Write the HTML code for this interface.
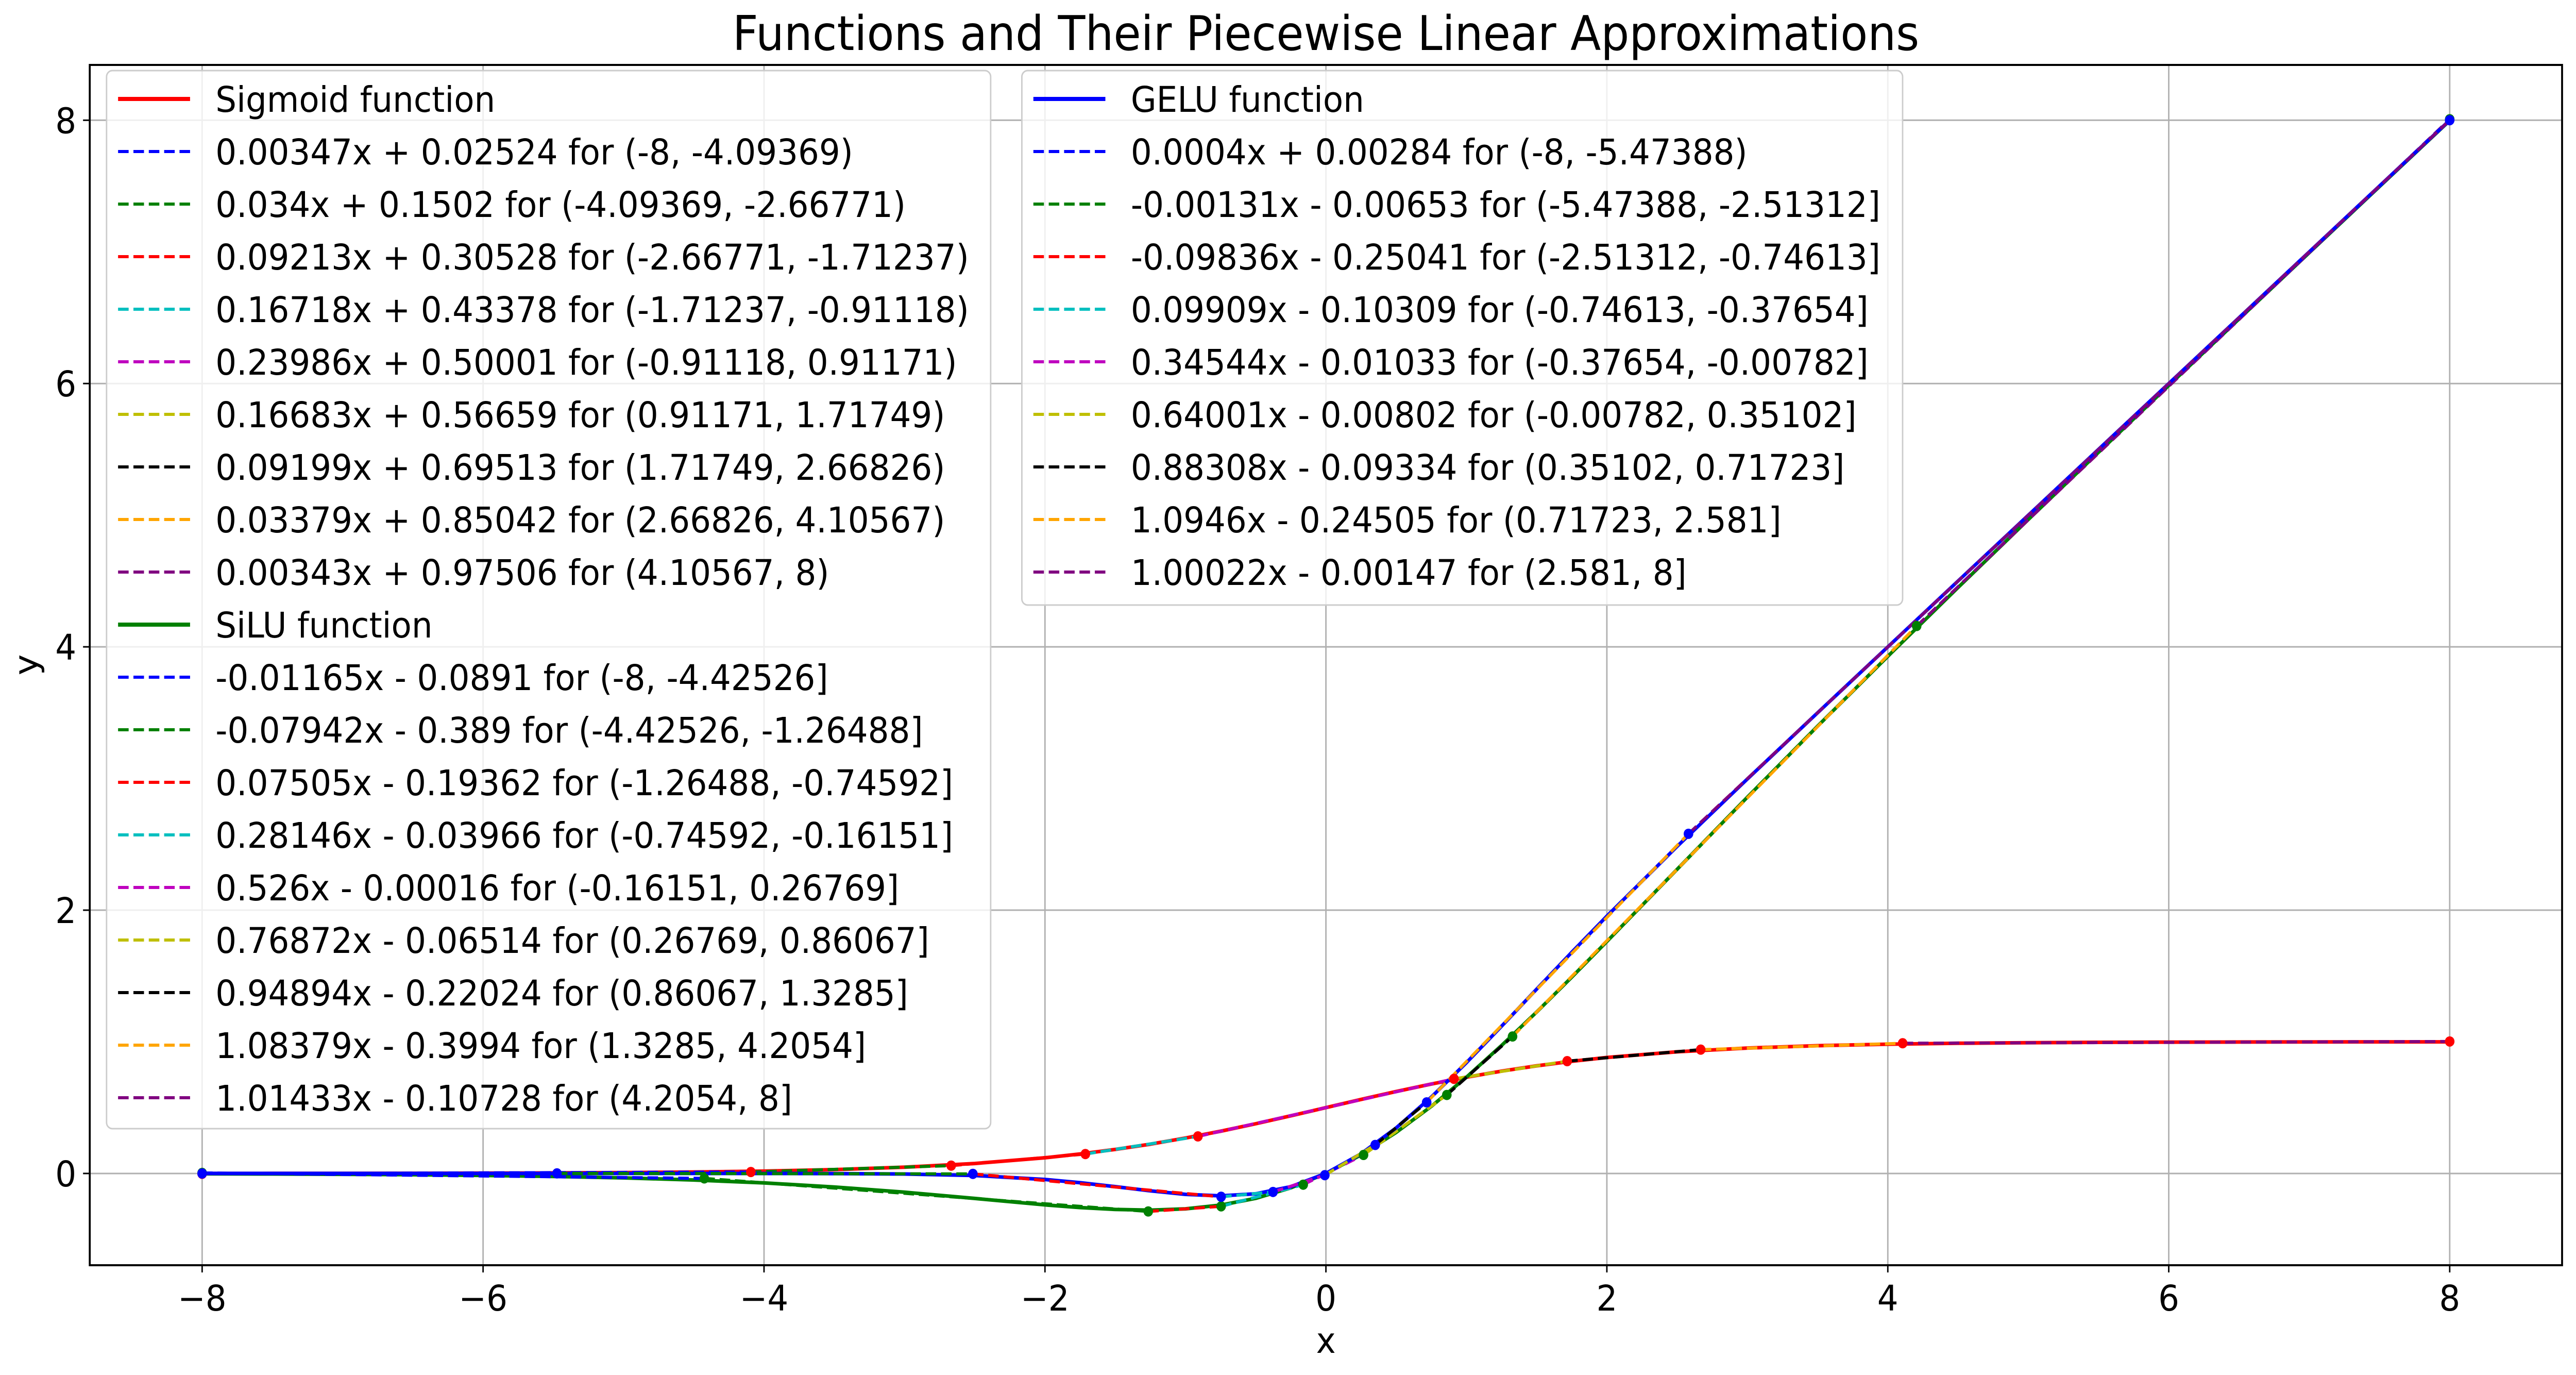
<!DOCTYPE html>
<html><head><meta charset="utf-8">
<style>
html,body{margin:0;padding:0;background:#fff;overflow:hidden;width:100%;height:100%;}
svg{display:block;width:100vw;height:100vh;font-family:"DejaVu Sans","Liberation Sans",sans-serif;}
</style></head>
<body>
<svg id="chart" xmlns="http://www.w3.org/2000/svg" viewBox="0 0 5367 2668" preserveAspectRatio="none">
<rect width="5367" height="2668" fill="#fff"/>
<g id="grid"></g>
<g id="series"></g>
<g id="axes"></g>
<g id="legends"></g>
</svg>
<script>
// ---- data ----
const xTicks = [-8,-6,-4,-2,0,2,4,6,8];
const yTicks = [0,2,4,6,8];
const sampleX = [-8,-7.5,-7,-6.5,-6,-5.5,-5,-4.5,-4,-3.5,-3,-2.5,-2,-1.75,-1.5,-1.25,-1,-0.75,-0.5,-0.25,0,0.25,0.5,0.75,1,1.25,1.5,1.75,2,2.5,3,3.5,4,4.5,5,5.5,6,6.5,7,7.5,8];
const sigmoidY = [0.000335,0.000553,0.000911,0.001501,0.002473,0.00407,0.006693,0.010987,0.017986,0.029312,0.047426,0.075858,0.119203,0.148047,0.182426,0.2227,0.268941,0.320821,0.377541,0.437823,0.5,0.562177,0.622459,0.679179,0.731059,0.7773,0.817574,0.851953,0.880797,0.924142,0.952574,0.970688,0.982014,0.989013,0.993307,0.99593,0.997527,0.998499,0.999089,0.999447,0.999665];
const siluY = [-0.00268,-0.00415,-0.00638,-0.00976,-0.01484,-0.02239,-0.03346,-0.04944,-0.07194,-0.10259,-0.14228,-0.18965,-0.23841,-0.25908,-0.27364,-0.27838,-0.26894,-0.24062,-0.18877,-0.10946,0,0.14054,0.31123,0.50938,0.73106,0.97163,1.22636,1.49092,1.76159,2.31035,2.85772,3.39741,3.92806,4.45056,4.96654,5.47761,5.98516,6.49024,6.99362,7.49585,7.99732];
const geluY = [0,0,0,0,0,0,0,0,-0.000127,-0.00081,-0.00405,-0.01553,-0.0455,-0.07011,-0.10021,-0.13206,-0.15866,-0.16997,-0.15427,-0.10032,0,0.14968,0.34573,0.58003,0.84134,1.11794,1.39979,1.67989,1.9545,2.48447,2.99595,3.49919,3.99987,4.5,5,5.5,6,6.5,7,7.5,8];

const sigBreaks = [-8,-4.09369,-2.66771,-1.71237,-0.91118,0.91171,1.71749,2.66826,4.10567,8];
const sigSlopes = [0.00347,0.034,0.09213,0.16718,0.23986,0.16683,0.09199,0.03379,0.00343];
const sigIntercepts = [0.02524,0.1502,0.30528,0.43378,0.50001,0.56659,0.69513,0.85042,0.97506];
const siluBreaks = [-8,-4.42526,-1.26488,-0.74592,-0.16151,0.26769,0.86067,1.3285,4.2054,8];
const siluSlopes = [-0.01165,-0.07942,0.07505,0.28146,0.526,0.76872,0.94894,1.08379,1.01433];
const siluIntercepts = [-0.0891,-0.389,-0.19362,-0.03966,-0.00016,-0.06514,-0.22024,-0.3994,-0.10728];
const geluBreaks = [-8,-5.47388,-2.51312,-0.74613,-0.37654,-0.00782,0.35102,0.71723,2.581,8];
const geluSlopes = [0.0004,-0.00131,-0.09836,0.09909,0.34544,0.64001,0.88308,1.0946,1.00022];
const geluIntercepts = [0.00284,-0.00653,-0.25041,-0.10309,-0.01033,-0.00802,-0.09334,-0.24505,-0.00147];

const legend1Labels = ["Sigmoid function","0.00347x + 0.02524 for (-8, -4.09369)","0.034x + 0.1502 for (-4.09369, -2.66771)","0.09213x + 0.30528 for (-2.66771, -1.71237)","0.16718x + 0.43378 for (-1.71237, -0.91118)","0.23986x + 0.50001 for (-0.91118, 0.91171)","0.16683x + 0.56659 for (0.91171, 1.71749)","0.09199x + 0.69513 for (1.71749, 2.66826)","0.03379x + 0.85042 for (2.66826, 4.10567)","0.00343x + 0.97506 for (4.10567, 8)","SiLU function","-0.01165x - 0.0891 for (-8, -4.42526]","-0.07942x - 0.389 for (-4.42526, -1.26488]","0.07505x - 0.19362 for (-1.26488, -0.74592]","0.28146x - 0.03966 for (-0.74592, -0.16151]","0.526x - 0.00016 for (-0.16151, 0.26769]","0.76872x - 0.06514 for (0.26769, 0.86067]","0.94894x - 0.22024 for (0.86067, 1.3285]","1.08379x - 0.3994 for (1.3285, 4.2054]","1.01433x - 0.10728 for (4.2054, 8]"];
const legend2Labels = ["GELU function","0.0004x + 0.00284 for (-8, -5.47388)","-0.00131x - 0.00653 for (-5.47388, -2.51312]","-0.09836x - 0.25041 for (-2.51312, -0.74613]","0.09909x - 0.10309 for (-0.74613, -0.37654]","0.34544x - 0.01033 for (-0.37654, -0.00782]","0.64001x - 0.00802 for (-0.00782, 0.35102]","0.88308x - 0.09334 for (0.35102, 0.71723]","1.0946x - 0.24505 for (0.71723, 2.581]","1.00022x - 0.00147 for (2.581, 8]"];

// ---- layout ----
const L=187,R=5338,T=126,B=2455;
const X0=-8.8,X1=8.8,Y0=-0.697,Y1=8.42;
const FS=69;
const segColors=["#0000ff","#008000","#ff0000","#00bfbf","#bf00bf","#bfbf00","#000000","#ffa500","#800080"];
const NS="http://www.w3.org/2000/svg";
function sx(v){return L+(v-X0)/(X1-X0)*(R-L);}
function sy(v){return B-(v-Y0)/(Y1-Y0)*(B-T);}
function mk(tag,attrs,parent){const e=document.createElementNS(NS,tag);for(const k in attrs)e.setAttribute(k,attrs[k]);parent.appendChild(e);return e;}
const grid=document.getElementById('grid'),series=document.getElementById('series'),axes=document.getElementById('axes'),legends=document.getElementById('legends');
function fmt(v){return v<0?"\u2212"+Math.abs(v):String(v);}

xTicks.forEach(t=>{
  const g=mk('line',{x1:sx(t),x2:sx(t),y1:T,y2:B,stroke:'#b0b0b0','stroke-width':3},grid);
  
  
  const tk=mk('line',{x1:sx(t),x2:sx(t),y1:B,y2:B+14,stroke:'#000','stroke-width':3},axes);
  
  
  const tx=mk('text',{x:sx(t),y:B+88,'font-size':FS,'text-anchor':'middle',fill:'#000'},axes);
  tx.textContent=fmt(t);
  
  
});
yTicks.forEach(t=>{
  const g=mk('line',{x1:L,x2:R,y1:sy(t),y2:sy(t),stroke:'#b0b0b0','stroke-width':3},grid);
  
  
  const tk=mk('line',{x1:L-14,x2:L,y1:sy(t),y2:sy(t),stroke:'#000','stroke-width':3},axes);
  
  
  const tx=mk('text',{x:L-28,y:sy(t)+25,'font-size':FS,'text-anchor':'end',fill:'#000'},axes);
  tx.textContent=fmt(t);
  
  
});
const frame=mk('rect',{x:L,y:T,width:R-L,height:B-T,fill:'none',stroke:'#000','stroke-width':4},axes);


const title=mk('text',{x:(L+R)/2,y:97,'font-size':93,'text-anchor':'middle',fill:'#000'},axes);
title.textContent="Functions and Their Piecewise Linear Approximations";


const xl=mk('text',{x:(L+R)/2,y:2625,'font-size':FS,'text-anchor':'middle',fill:'#000'},axes);
xl.textContent="x";


const yl=mk('text',{x:0,y:0,'font-size':FS,'text-anchor':'middle',fill:'#000',transform:'translate(78,1290) rotate(-90)'},axes);
yl.textContent="y";



function drawFunc(ys,color,name,breaks,slopes,ints){
  const pts=sampleX.map((x,i)=>sx(x).toFixed(1)+","+sy(ys[i]).toFixed(1)).join(" ");
  const pl=mk('polyline',{points:pts,fill:'none',stroke:color,'stroke-width':7,'stroke-linejoin':'round'},series);
  
  
  for(let i=0;i<slopes.length;i++){
    const a=breaks[i],b=breaks[i+1];
    const ln=mk('line',{x1:sx(a),y1:sy(slopes[i]*a+ints[i]),x2:sx(b),y2:sy(slopes[i]*b+ints[i]),stroke:segColors[i],'stroke-width':6,'stroke-dasharray':'22 10'},series);
    
    
  }
  return ()=>{
    for(let i=0;i<breaks.length;i++){
      const k=Math.min(i,slopes.length-1);
      const c=mk('circle',{cx:sx(breaks[i]),cy:sy(slopes[k]*breaks[i]+ints[k]),r:10,fill:color},series);
      
      
    }
  };
}
const d1=drawFunc(sigmoidY,'#ff0000','sigmoid',sigBreaks,sigSlopes,sigIntercepts);
const d2=drawFunc(siluY,'#008000','silu',siluBreaks,siluSlopes,siluIntercepts);
const d3=drawFunc(geluY,'#0000ff','gelu',geluBreaks,geluSlopes,geluIntercepts);
d1();d2();d3();

function drawLegend(x,y,w,labels,mainIdx,mainColors,name){
  const rowH=102;
  const h=labels.length*rowH+(labels.length>10?13:17);
  const bx=mk('rect',{x:x,y:y,width:w,height:h,rx:12,fill:'#fff','fill-opacity':0.8,stroke:'#cccccc','stroke-width':3},legends);
  
  
  labels.forEach((lab,i)=>{
    const cy=y+55+i*rowH;
    const mi=mainIdx.indexOf(i);
    let col,solid;
    if(mi>=0){col=mainColors[mi];solid=true;}else{const s=(i%10)-1;col=segColors[s];solid=false;}
    const hl=mk('line',{x1:x+24,x2:x+174,y1:cy,y2:cy,stroke:col,'stroke-width':solid?8:6},legends);
    if(!solid)hl.setAttribute('stroke-dasharray','22 10');
    
    
    const t=mk('text',{x:x+227,y:cy+25,'font-size':FS,fill:'#000'},legends);
    t.textContent=lab;
    
    
  });
}
drawLegend(222,137,1842,legend1Labels,[0,10],['#ff0000','#008000'],'legend-sigmoid-silu');
drawLegend(2129,137,1835,legend2Labels,[0],['#0000ff'],'legend-gelu');
</script>
</body></html>
